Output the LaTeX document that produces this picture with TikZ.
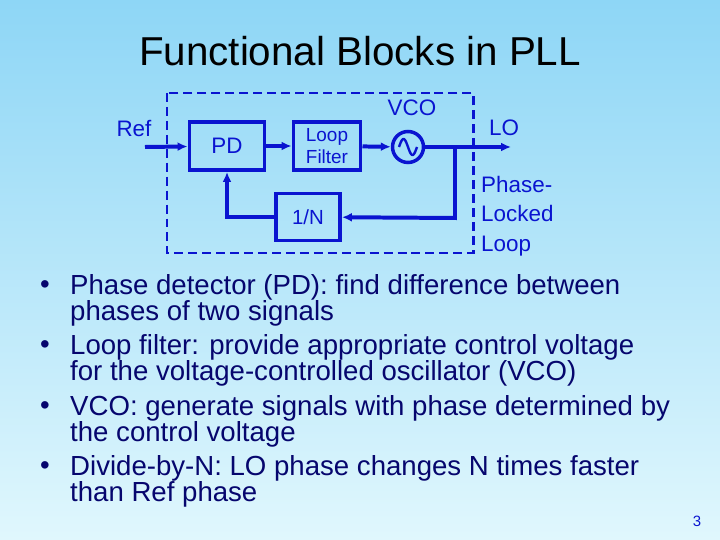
\documentclass[tikz,border=0pt]{standalone}
\usepackage{fontspec}
\setmainfont{Liberation Sans}
\usetikzlibrary{arrows.meta,positioning}
\definecolor{bgtop}{HTML}{8ED6F6}
\definecolor{bgbot}{HTML}{E0F7FD}
\definecolor{wire}{HTML}{0A14D0}
\definecolor{ink}{HTML}{06066E}
\begin{document}
\begin{tikzpicture}[x=1bp,y=-1bp,
  blk/.style={draw=wire,line width=4pt,minimum width=75bp,minimum height=48bp,inner sep=0pt,text=wire,font=\fontsize{22.5}{25}\selectfont},
  sig/.style={draw=wire,line width=4pt,-{Latex[length=10pt,width=9pt]}},
  lbl/.style={text=wire,font=\fontsize{22.5}{26}\selectfont},
  item/.style={anchor=west,text=ink,inner sep=0pt,font=\fontsize{27.7}{30}\selectfont}]
\shade[top color=bgtop,bottom color=bgbot] (0,0) rectangle (720,540);
\useasboundingbox (0,0) rectangle (720,540);
\node[font=\fontsize{40.5}{44}\selectfont] (title) at (360,51) {Functional Blocks in PLL};
% loop
\draw[wire,line width=3pt,dash pattern=on 9pt off 5pt] (167,93) rectangle (473,253);
\node[blk] (pd) at (227,146) {PD};
\node[blk,minimum width=67bp,align=center,font=\fontsize{19}{22}\selectfont] (lf) at (327,146) {Loop\\Filter};
\node[blk,minimum width=64bp,minimum height=47bp,font=\fontsize{20.5}{22}\selectfont] (div) at (308,217) {1/N};
\node[draw=wire,line width=3.5pt,circle,minimum size=31bp,inner sep=0pt] (vco) at (408,147) {};
\draw[wire,line width=2.4pt,shift={(vco.center)}] plot[domain=-9:9,samples=40,smooth] (\x,{8*sin(20*\x)});
\coordinate (in) at (145,147);
\coordinate (tap) at (455,147);
\coordinate (out) at (511,147);
\coordinate (fb) at (455,218);
\node[lbl] (ref) at (134,129) {Ref};
\node[lbl] (vcol) at (412,108) {VCO};
\node[lbl] (lo) at (504,128) {LO};
\node[lbl,anchor=north west,align=left,inner sep=0pt,font=\fontsize{22.5}{29.5}\selectfont] (pll) at (481,176) {Phase-\\Locked\\Loop};
\draw[sig] (in) -- (pd);
\draw[sig] (pd) -- (lf);
\draw[sig] (lf) -- (vco);
\draw[sig] (vco) -- (out);
\draw[sig] (tap) -- (fb) -- (div);
\draw[sig] (div.west) -| (pd.south);
% bullets
\foreach \y/\t in {287/Phase detector (PD): find difference between,
                   347/Loop filter: provide appropriate control voltage,
                   408/VCO: generate signals with phase determined by,
                   468/Divide-by-N: LO phase changes N times faster}
  \node[item] at (70,\y) {\t};
\foreach \y in {287,347,408,468}
  \node[item] at (40,\y) {\textbullet};
\node[item] (l2) at (70,313) {phases of two signals};
\node[item] (l4) at (70,373) {for the voltage-controlled oscillator (VCO)};
\node[item] (l6) at (70,434) {the control voltage};
\node[item] (l8) at (70,494) {than Ref phase};
\node[text=wire,font=\fontsize{15}{16}\selectfont] (pg) at (697,521) {3};
\end{tikzpicture}
\end{document}
